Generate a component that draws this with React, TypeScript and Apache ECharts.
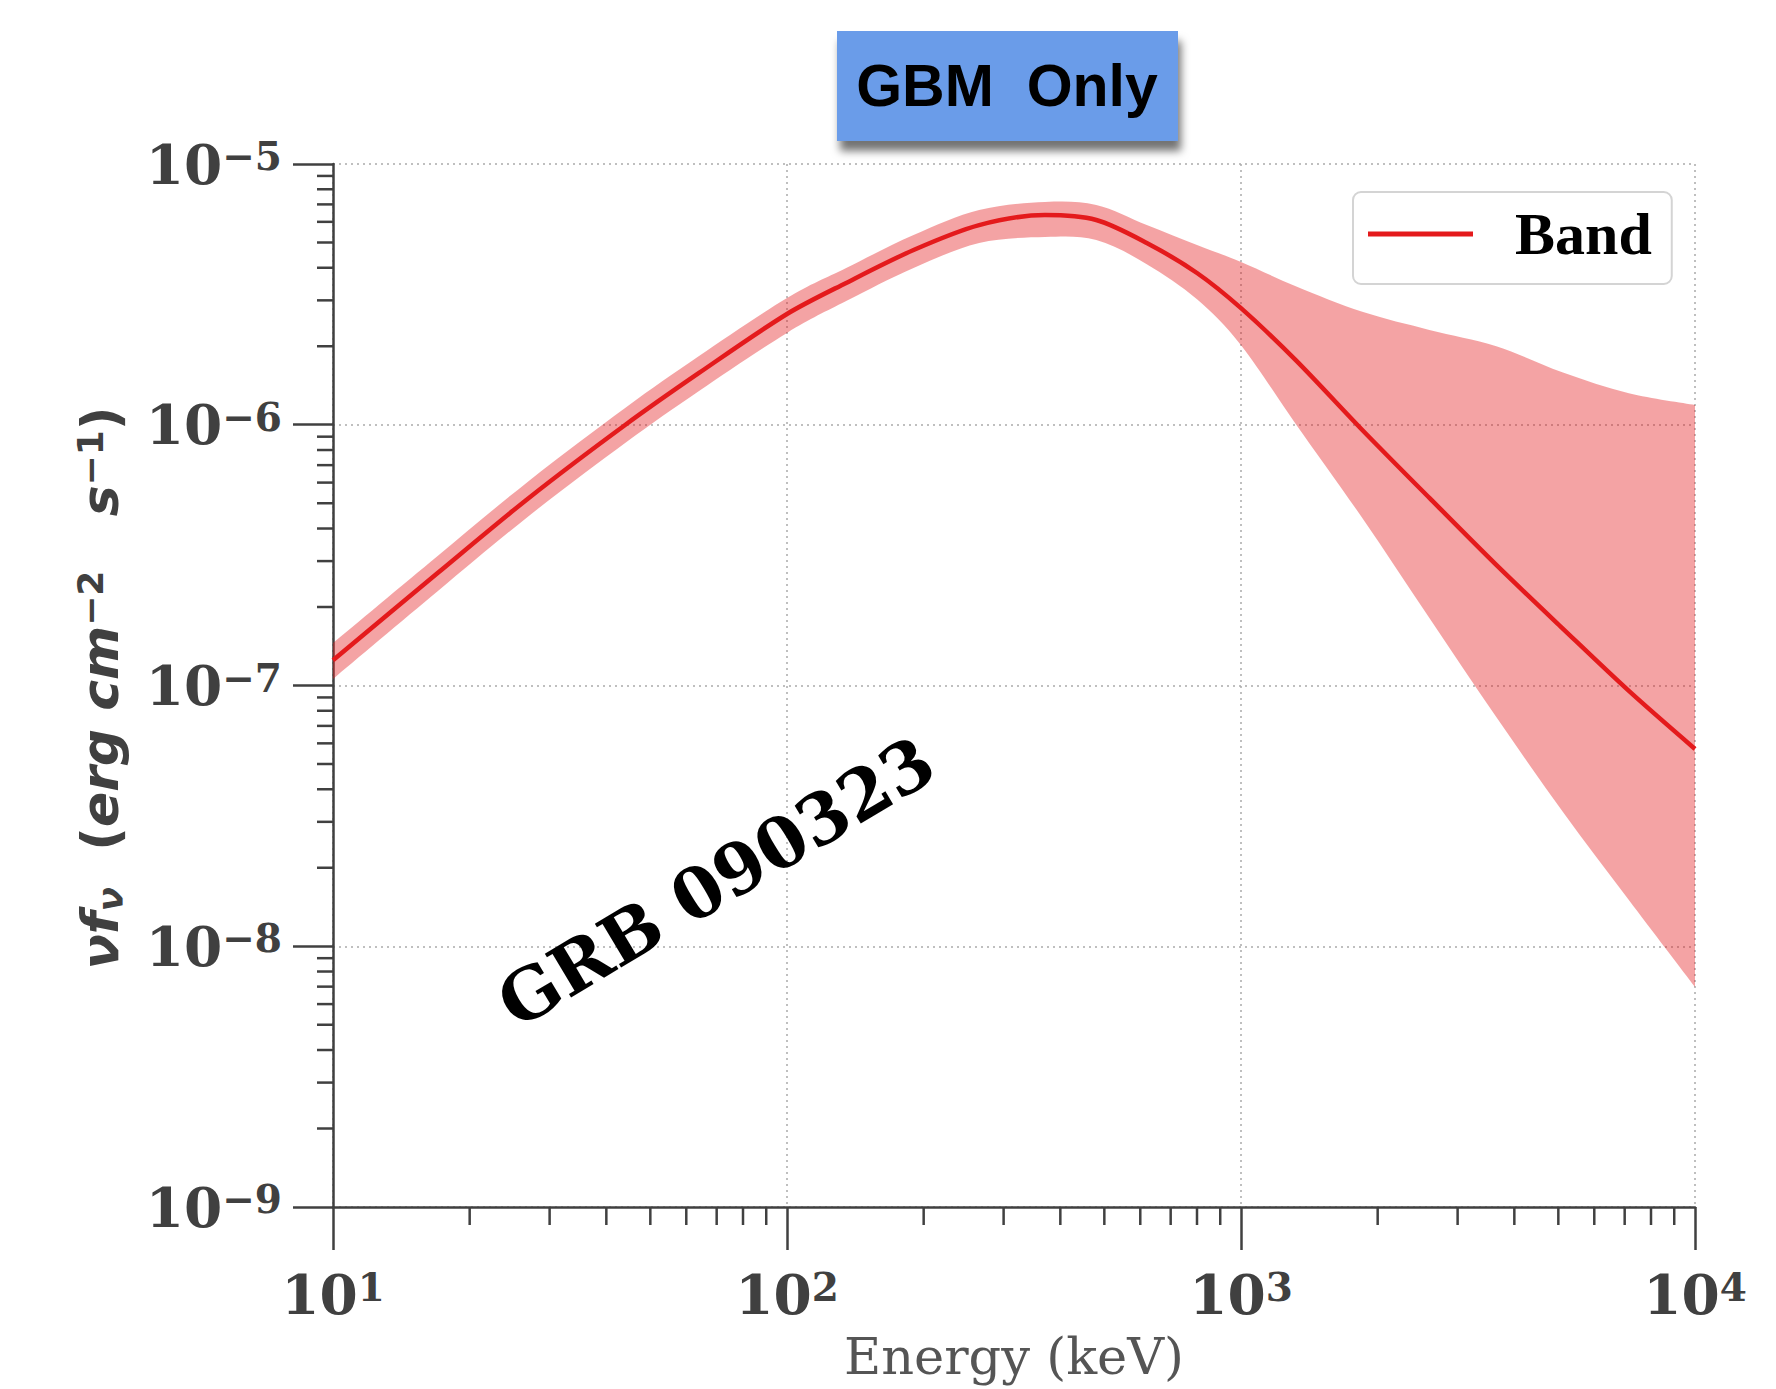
import React, { useEffect, useRef } from 'react';
import * as echarts from 'echarts';

// Energy grid (keV) and values
const energy = [10, 17, 27, 44, 64, 100, 135, 190, 265, 370, 480, 620, 800, 1000, 1320, 1850, 2600, 3650, 5100, 7150, 10000];
const bandFlux = [1.25e-7, 2.7e-7, 5.24e-7, 9.98e-7, 1.58e-6, 2.66e-6, 3.5e-6, 4.68e-6, 5.83e-6, 6.37e-6, 6.1e-6, 4.98e-6, 3.82e-6, 2.8e-6, 1.77e-6, 9.55e-7, 5.24e-7, 2.9e-7, 1.66e-7, 9.53e-8, 5.71e-8];
const bandUpper = [1.455e-7, 3.14e-7, 6.09e-7, 1.16e-6, 1.835e-6, 3.06e-6, 3.99e-6, 5.34e-6, 6.66e-6, 7.15e-6, 6.96e-6, 5.83e-6, 4.89e-6, 4.21e-6, 3.4e-6, 2.71e-6, 2.31e-6, 2.0e-6, 1.59e-6, 1.32e-6, 1.19e-6];
const bandLower = [1.06e-7, 2.3e-7, 4.47e-7, 8.51e-7, 1.347e-6, 2.25e-6, 2.98e-6, 3.99e-6, 4.98e-6, 5.25e-6, 5.11e-6, 4.13e-6, 3.03e-6, 2.02e-6, 1.007e-6, 4.39e-7, 1.815e-7, 7.57e-8, 3.3e-8, 1.505e-8, 6.98e-9];

const xMinorTicks = [20, 30, 40, 50, 60, 70, 80, 90, 200, 300, 400, 500, 600, 700, 800, 900, 2000, 3000, 4000, 5000, 6000, 7000, 8000, 9000];
const yMinorTicks = [
  2e-9, 3e-9, 4e-9, 5e-9, 6e-9, 7e-9, 8e-9, 9e-9,
  2e-8, 3e-8, 4e-8, 5e-8, 6e-8, 7e-8, 8e-8, 9e-8,
  2e-7, 3e-7, 4e-7, 5e-7, 6e-7, 7e-7, 8e-7, 9e-7,
  2e-6, 3e-6, 4e-6, 5e-6, 6e-6, 7e-6, 8e-6, 9e-6,
];

const X_MIN = 10;
const X_MAX = 10000;
const Y_MIN = 1e-9;
const Y_MAX = 1e-5;

const seriesName = 'Band';
const titleText = 'GBM  Only';
const grbText = 'GRB 090323';
const xName = 'Energy (keV)';

const AXIS_COLOR = '#404040';
const RED = '#E41A1C';

// Smooth filled band between two pixel polylines (Catmull-Rom edges, straight ends)
const BandArea = (echarts as any).graphic.extendShape({
  shape: { up: [], lo: [] },
  buildPath(ctx: any, shape: any) {
    const curve = (pts: number[][], first: boolean) => {
      if (!pts.length) return;
      if (first) ctx.moveTo(pts[0][0], pts[0][1]);
      else ctx.lineTo(pts[0][0], pts[0][1]);
      const t = 1 / 6;
      for (let i = 0; i < pts.length - 1; i++) {
        const p0 = pts[Math.max(i - 1, 0)];
        const p1 = pts[i];
        const p2 = pts[i + 1];
        const p3 = pts[Math.min(i + 2, pts.length - 1)];
        ctx.bezierCurveTo(
          p1[0] + (p2[0] - p0[0]) * t,
          p1[1] + (p2[1] - p0[1]) * t,
          p2[0] - (p3[0] - p1[0]) * t,
          p2[1] - (p3[1] - p1[1]) * t,
          p2[0],
          p2[1]
        );
      }
    };
    curve(shape.up, true);
    curve(shape.lo, false);
    ctx.closePath();
  },
});
(echarts as any).graphic.registerShape('bandArea', BandArea);

const tickRich = {
  b: { fontFamily: 'DejaVu Serif', fontWeight: 'bold', fontSize: 55, color: AXIS_COLOR, lineHeight: 55 },
  s: { fontFamily: 'DejaVu Serif', fontWeight: 'bold', fontSize: 39, color: AXIS_COLOR, verticalAlign: 'top', lineHeight: 39 },
};

function powerLabel(v: number) {
  const e = Math.round(Math.log10(v));
  const es = e < 0 ? '\u2212' + -e : String(e);
  return `{b|10}{s|${es}}`;
}

export default function App() {
  const ref = useRef<HTMLDivElement>(null);
  useEffect(() => {
    if (!ref.current) return;
    const chart = echarts.init(ref.current, null, { renderer: 'svg' });
    const option: any = {
      animation: false,
      backgroundColor: '#ffffff',
      grid: { left: 333, right: 81, top: 164, bottom: 182, containLabel: false, outerBoundsMode: 'none' },
      legend: {
        left: 1353,
        top: 192,
        padding: [12, 20, 20, 15],
        itemWidth: 105,
        itemHeight: 5,
        icon: 'rect',
        borderColor: '#d4d4d4',
        borderWidth: 2,
        borderRadius: 8,
        backgroundColor: 'rgba(255,255,255,0.85)',
        textStyle: {
          fontFamily: 'Liberation Serif',
          fontWeight: 'bold',
          fontSize: 60,
          color: '#000',
          padding: [0, 0, 0, 37],
        },
        data: [seriesName],
      },
      xAxis: {
        type: 'log',
        logBase: 10,
        min: X_MIN,
        max: X_MAX,
        name: xName,
        nameLocation: 'middle',
        nameGap: 121,
        nameTextStyle: { fontFamily: 'DejaVu Serif', fontSize: 51, color: '#555555', lineHeight: 56 },
        axisLine: { show: true, lineStyle: { color: AXIS_COLOR, width: 2.5 } },
        axisTick: { show: true, length: 43, lineStyle: { color: AXIS_COLOR, width: 2.5 } },
        axisLabel: { margin: 60, formatter: powerLabel, rich: tickRich },
        splitLine: { show: true, lineStyle: { color: '#aaaaaa', width: 1.5, type: [2, 4] } },
        minorTick: { show: false },
      },
      yAxis: {
        type: 'log',
        logBase: 10,
        min: Y_MIN,
        max: Y_MAX,
        axisLine: { show: true, lineStyle: { color: AXIS_COLOR, width: 2.5 } },
        axisTick: { show: true, length: 40, lineStyle: { color: AXIS_COLOR, width: 2.5 } },
        axisLabel: { margin: 51, formatter: powerLabel, rich: tickRich },
        splitLine: { show: true, lineStyle: { color: '#aaaaaa', width: 1.5, type: [2, 4] } },
      },
      series: [
        {
          type: 'custom',
          name: 'band-range',
          clip: true,
          silent: true,
          data: energy.map((e, i) => [e, bandUpper[i], bandLower[i]]),
          encode: { x: 0, y: [1, 2] },
          renderItem: (params: any, api: any) => {
            if (params.dataIndex !== 0) return null;
            const up: number[][] = [];
            const lo: number[][] = [];
            for (let i = 0; i < energy.length; i++) up.push(api.coord([energy[i], bandUpper[i]]));
            for (let i = energy.length - 1; i >= 0; i--) lo.push(api.coord([energy[i], bandLower[i]]));
            return {
              type: 'bandArea',
              shape: { up, lo },
              style: { fill: 'rgba(228,26,28,0.4)', stroke: 'none' },
            };
          },
          z: 1,
        },
        {
          type: 'line',
          name: seriesName,
          data: energy.map((e, i) => [e, bandFlux[i]]),
          showSymbol: false,
          symbol: 'none',
          smooth: 0.3,
          color: RED,
          lineStyle: { color: RED, width: 4.5 },
          z: 3,
        },
        {
          type: 'custom',
          name: 'x-minor',
          silent: true,
          data: xMinorTicks.map((v) => [v, Y_MIN]),
          renderItem: (params: any, api: any) => {
            const p = api.coord([api.value(0), api.value(1)]);
            return {
              type: 'line',
              shape: { x1: p[0], y1: p[1], x2: p[0], y2: p[1] + 18 },
              style: { stroke: AXIS_COLOR, lineWidth: 2.5 },
            };
          },
          z: 4,
        },
        {
          type: 'custom',
          name: 'y-minor',
          silent: true,
          data: yMinorTicks.map((v) => [X_MIN, v]),
          renderItem: (params: any, api: any) => {
            const p = api.coord([api.value(0), api.value(1)]);
            return {
              type: 'line',
              shape: { x1: p[0] - 16, y1: p[1], x2: p[0], y2: p[1] },
              style: { stroke: AXIS_COLOR, lineWidth: 2.5 },
            };
          },
          z: 4,
        },
      ],
      graphic: [
        {
          type: 'rect',
          left: 837,
          top: 31,
          shape: { width: 341, height: 110 },
          style: {
            fill: '#6B9CE9',
            shadowColor: 'rgba(0,0,0,0.55)',
            shadowBlur: 8,
            shadowOffsetX: 3,
            shadowOffsetY: 10,
          },
          z: 10,
        },
        {
          type: 'text',
          x: 1007,
          y: 86,
          style: {
            text: titleText,
            fontFamily: 'Liberation Sans',
            fontWeight: 'bold',
            fontSize: 59,
            fill: '#000',
            align: 'center',
            verticalAlign: 'middle',
          },
          z: 11,
        },
        {
          type: 'text',
          x: 716,
          y: 882,
          rotation: (31 * Math.PI) / 180,
          style: {
            text: grbText,
            fontFamily: 'DejaVu Serif',
            fontWeight: 'bold',
            fontSize: 70,
            fill: '#000',
            align: 'center',
            verticalAlign: 'middle',
          },
          z: 10,
        },
        {
          type: 'text',
          x: 100,
          y: 688,
          rotation: Math.PI / 2,
          style: {
            text: '{i|\u03BDf}{sb|\u03BD}{i|  }{n|(}{i|erg cm}{sp|\u22122}{i|   s}{sp|\u22121}{n|)}',
            align: 'center',
            verticalAlign: 'middle',
            fill: AXIS_COLOR,
            rich: {
              i: { fontFamily: 'DejaVu Sans', fontWeight: 'bold', fontStyle: 'italic', fontSize: 52, fill: AXIS_COLOR, lineHeight: 56 },
              n: { fontFamily: 'DejaVu Sans', fontWeight: 'bold', fontSize: 52, fill: AXIS_COLOR, lineHeight: 56 },
              sb: { fontFamily: 'DejaVu Sans', fontWeight: 'bold', fontStyle: 'italic', fontSize: 36, fill: AXIS_COLOR, verticalAlign: 'bottom', lineHeight: 36 },
              sp: { fontFamily: 'DejaVu Sans', fontWeight: 'bold', fontSize: 36, fill: AXIS_COLOR, verticalAlign: 'top', lineHeight: 36 },
            },
          },
          z: 10,
        },
      ],
    };
    chart.setOption(option);
    return () => chart.dispose();
  }, []);
  return (
    <div
      ref={ref}
      style={{ position: 'absolute', left: 0, top: 0, width: 1776, height: 1389, background: '#fff' }}
    />
  );
}
